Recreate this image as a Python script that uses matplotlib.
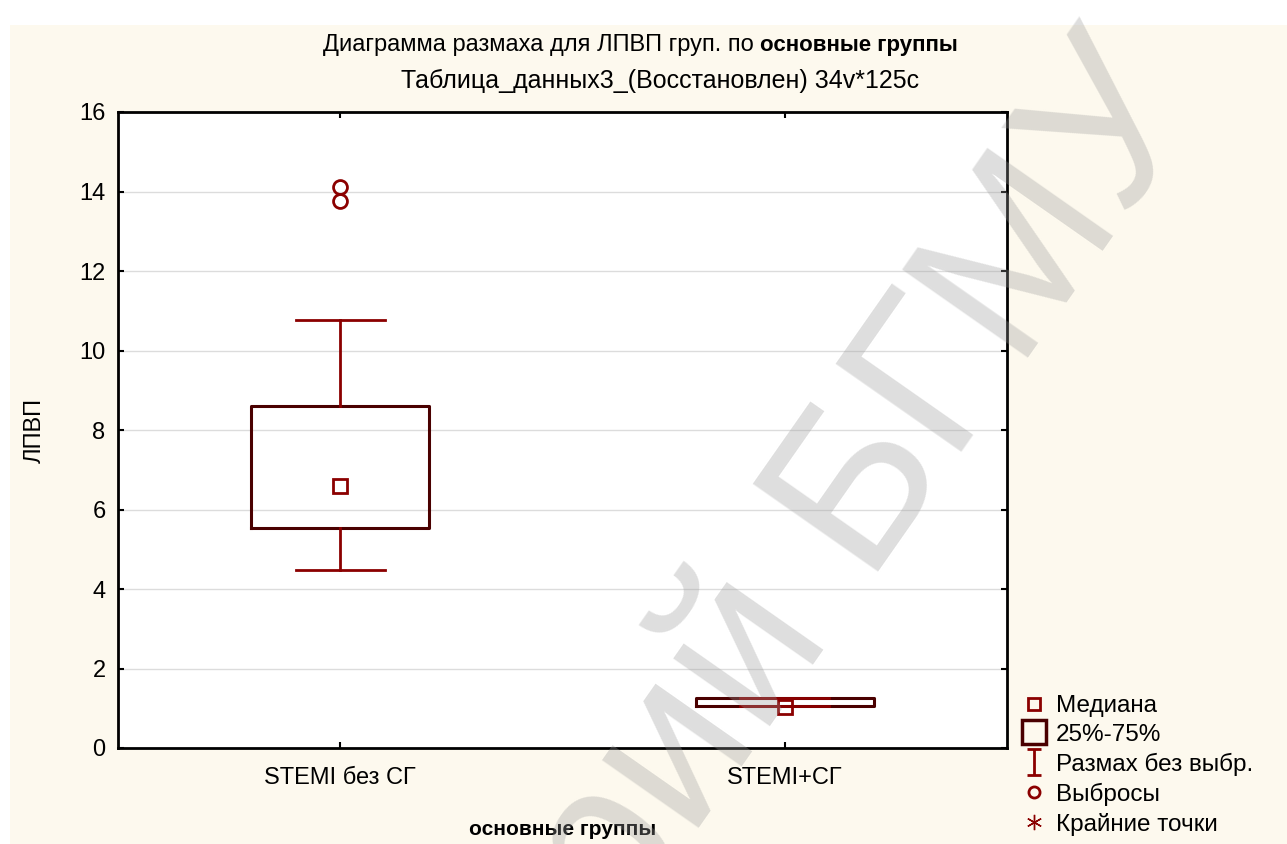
import matplotlib.pyplot as plt
from matplotlib.lines import Line2D
from matplotlib.patches import Rectangle
from matplotlib.path import Path

plt.rcParams['font.family'] = ['Liberation Sans', 'DejaVu Sans']

# data
groups = ['STEMI без СГ', 'STEMI+СГ']
q1 = [5.53, 1.05]
q3 = [8.60, 1.27]
medians = [6.59, 1.04]
whisk_lo = [4.48, 1.05]
whisk_hi = [10.77, 1.27]
outliers = [[14.11, 13.76], []]

box_col = '#4a0000'
red = '#8b0000'
cream = '#fdf9ee'

fig = plt.figure(figsize=(12.87, 8.44), dpi=100)
fig.patch.set_facecolor('white')
fig.patches.append(Rectangle((10 / 1287, 0), 1, 1 - 25 / 844, transform=fig.transFigure,
                             facecolor=cream, edgecolor='none', zorder=-10))

ax = fig.add_axes([118 / 1287, 1 - 748 / 844, (1007 - 118) / 1287, (748 - 112) / 844])
ax.set_facecolor('white')

stats = []
for i in range(len(groups)):
    stats.append(dict(label=groups[i], q1=q1[i], q3=q3[i], med=medians[i],
                      whislo=whisk_lo[i], whishi=whisk_hi[i], fliers=outliers[i]))
pos = list(range(len(groups)))
ax.bxp(stats, positions=pos, widths=0.4, capwidths=0.2, showfliers=True,
       boxprops=dict(color=box_col, linewidth=2.2),
       whiskerprops=dict(color=red, linewidth=2),
       capprops=dict(color=red, linewidth=2),
       medianprops=dict(linewidth=0),
       flierprops=dict(marker='o', markersize=10, markerfacecolor='none',
                       markeredgecolor=red, markeredgewidth=2))
ax.plot(pos, medians, 's', markersize=10, markerfacecolor='none',
        markeredgecolor=red, markeredgewidth=2, linestyle='none')

ax.set_xlim(-0.5, 1.5)
ax.set_ylim(0, 16)
ax.set_yticks(range(0, 17, 2))
ax.set_xticks(pos)
ax.set_xticklabels(groups)
ax.yaxis.grid(True, color='#dcdcdc', linewidth=1)
ax.set_axisbelow(True)
ax.tick_params(direction='in', length=4, width=1.5, labelsize=17, top=True, right=True,
               pad=9)
ax.tick_params(axis='x', pad=14)
for s in ax.spines.values():
    s.set_linewidth(2)

ax.set_ylabel('ЛПВП', fontsize=17, labelpad=24)
ax.set_xlabel('основные группы', fontsize=15, fontweight='bold', labelpad=22)

fig.text(760 / 1287, 1 - 45 / 844,
         'Диаграмма размаха для ЛПВП груп. по ', fontsize=17, ha='right', va='center')
fig.text(760 / 1287, 1 - 45 / 844, 'основные группы',
         fontsize=16, fontweight='bold', ha='left', va='center')
fig.text(660 / 1287, 1 - 81 / 844, 'Таблица_данных3_(Восстановлен) 34v*125c',
         fontsize=18, ha='center', va='center')

# legend
ibeam = Path([(-0.5, 1), (0.5, 1), (0, 1), (0, -1), (-0.5, -1), (0.5, -1)],
             [Path.MOVETO, Path.LINETO, Path.MOVETO, Path.LINETO, Path.MOVETO, Path.LINETO])
handles = [
    Line2D([], [], marker='s', ls='none', markersize=9, markerfacecolor='none',
           markeredgecolor=red, markeredgewidth=2),
    Line2D([], [], marker='s', ls='none', markersize=17, markerfacecolor='none',
           markeredgecolor=box_col, markeredgewidth=2.5),
    Line2D([], [], marker=ibeam, ls='none', markersize=19, markerfacecolor='none',
           markeredgecolor=red, markeredgewidth=2),
    Line2D([], [], marker='o', ls='none', markersize=8, markerfacecolor='none',
           markeredgecolor=red, markeredgewidth=2),
    Line2D([], [], marker=(6, 2, 0), ls='none', markersize=11,
           markeredgecolor=red, markeredgewidth=1),
]
labels = ['Медиана', '25%-75%', 'Размах без выбр.', 'Выбросы', 'Крайние точки']
fig.legend(handles, labels, loc='upper left', bbox_to_anchor=(1012 / 1287, 1 - 683 / 844),
           frameon=False, fontsize=17.5, handlelength=0.8, handletextpad=0.5,
           labelspacing=0.28, borderpad=0)

# watermark
fig.text(1070 / 1287, 1 - 10 / 844, 'Репозиторий БГМУ', fontsize=160, color='#9a9a9a',
         alpha=0.32, rotation=55, ha='right', va='top',
         rotation_mode='anchor', zorder=20)

fig.savefig('out.png', dpi=100, facecolor=fig.get_facecolor())
